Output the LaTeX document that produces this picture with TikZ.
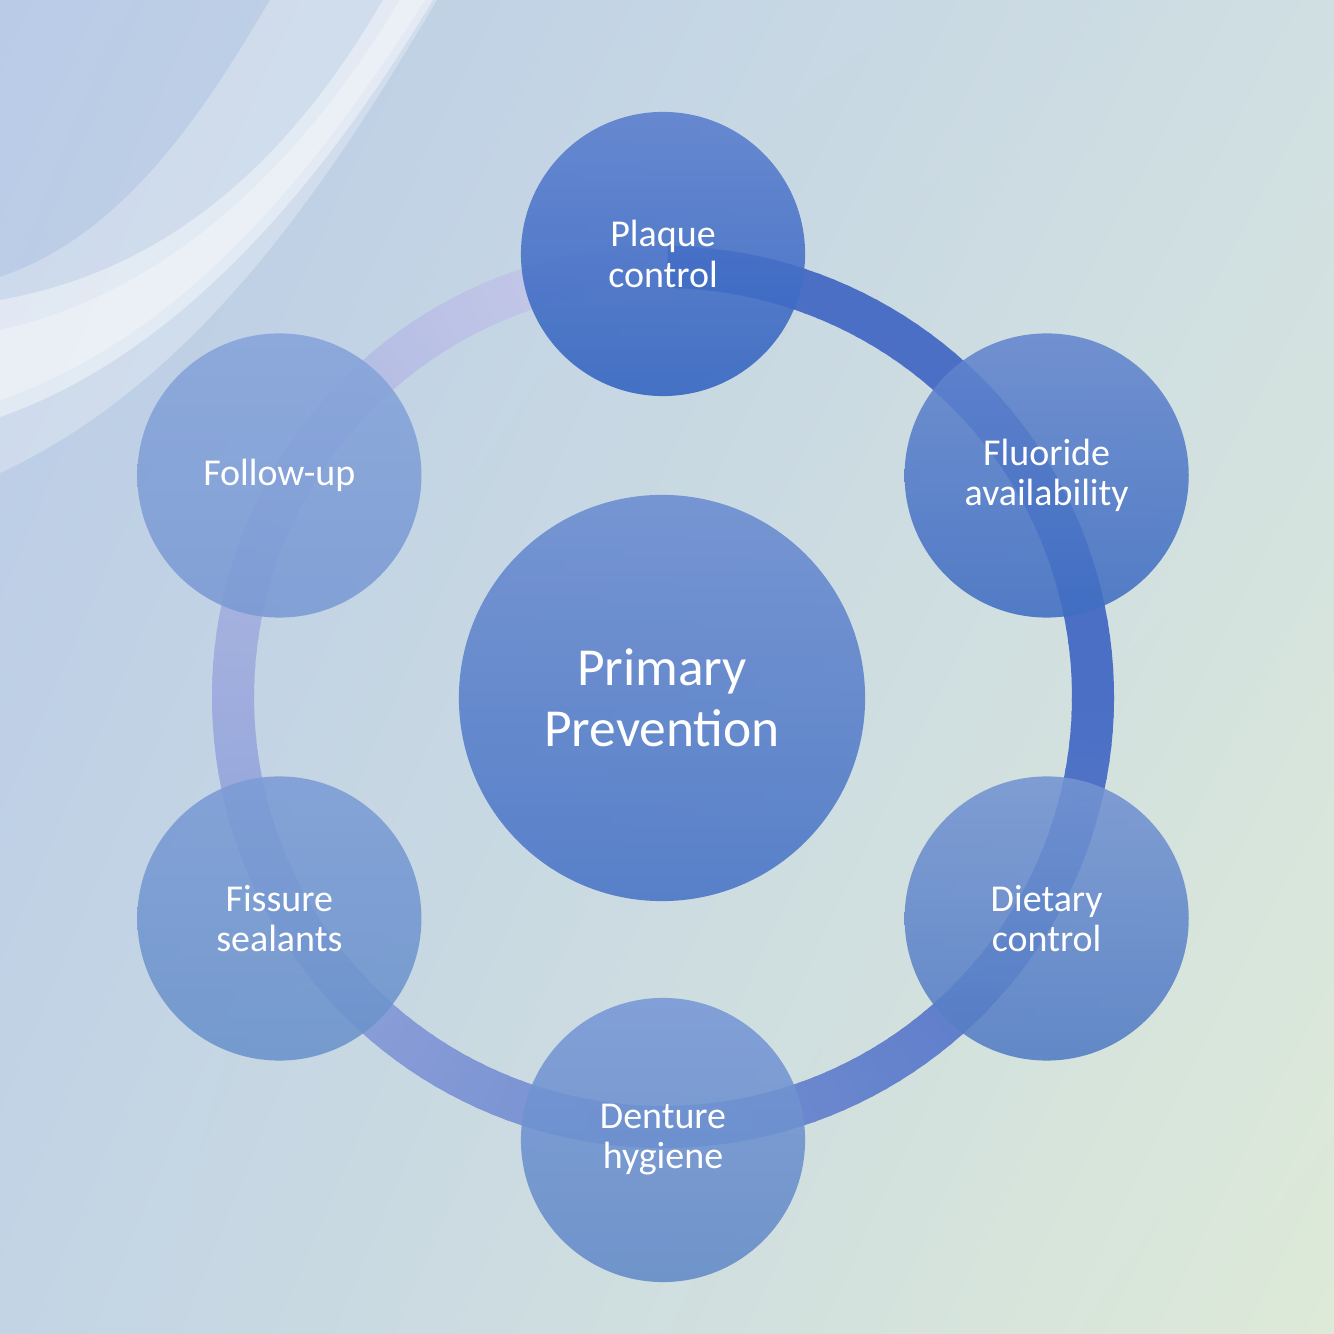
\documentclass[tikz,border=0pt]{standalone}
\usepackage{fontspec}
\setmainfont{Carlito}
\usetikzlibrary{calc,shadings}

\definecolor{bgtl}{HTML}{B9CBE7}
\definecolor{bgtr}{HTML}{D0DFE2}
\definecolor{bgbl}{HTML}{C3D4E5}
\definecolor{bgbr}{HTML}{DDEAD8}
\definecolor{ringdark}{HTML}{4A6FC5}
\definecolor{ringlight}{HTML}{CACDEA}
\definecolor{plaquetop}{HTML}{5A7ECE}
\definecolor{plaquebot}{HTML}{3263C0}
\definecolor{fluortop}{HTML}{6486CE}
\definecolor{fluorbot}{HTML}{406EC2}
\definecolor{diettop}{HTML}{7494D2}
\definecolor{dietbot}{HTML}{527CC4}
\definecolor{denttop}{HTML}{7898D6}
\definecolor{dentbot}{HTML}{628AC8}
\definecolor{fisstop}{HTML}{7C9CD6}
\definecolor{fissbot}{HTML}{6A92CA}
\definecolor{follotop}{HTML}{86A4DA}
\definecolor{follobot}{HTML}{7A9AD4}
\definecolor{hubtop}{HTML}{6B8CD0}
\definecolor{hubbot}{HTML}{4874C6}

\tikzset{
  petal/.style={circle, minimum size=2.84cm, inner sep=0pt, align=center,
    text=white, font=\fontsize{10.8}{11.4}\selectfont,
    fill opacity=.88, text opacity=1},
  hubdisc/.style={petal, minimum size=4.06cm,
    font=\fontsize{15.2}{17.4}\selectfont},
  ringseg/.style={line width=.42cm}
}

\begin{document}
\begin{tikzpicture}[x=.01cm, y=.01cm]
    \useasboundingbox (0,0) rectangle (1334,1334);
    \shade[upper left=bgtl, upper right=bgtr, lower left=bgbl, lower right=bgbr]
        (0,0) rectangle (1334,1334);

    % white swooshes in the top left corner
    \begin{scope}
        \clip (0,0) rectangle (1334,1334);
        \fill[white, opacity=.28] (270,1334) .. controls (205,1224) and (125,1099) .. (0,1057)
            -- (0,861) .. controls (200,954) and (330,1154) .. (437,1334) -- cycle;
        \fill[white, opacity=.4] (383,1334) .. controls (290,1174) and (170,1064) .. (0,1034)
            -- (0,917) .. controls (190,984) and (330,1164) .. (433,1334) -- cycle;
        \fill[white, opacity=.3] (400,1334) .. controls (310,1184) and (180,1044) .. (0,1004)
            -- (0,934) .. controls (190,1000) and (320,1170) .. (425,1334) -- cycle;
    \end{scope}

    \coordinate (hub) at (663,637);

    % ring, darkest just right of the top, fading clockwise
    \foreach \a in {0,2,...,358}{
        \pgfmathsetmacro\mixp{max(0,(\a-90)/270*100)}
        \draw[ringseg, color=ringlight!\mixp!ringdark]
            ($(hub)+(90-\a:430)$) arc[start angle=90-\a, end angle=87.4-\a, radius=430];
    }

    \node[petal, top color=plaquetop, bottom color=plaquebot] (plaque) at ($(hub)+(90:443)$) {Plaque\\control};
    \node[petal, top color=fluortop, bottom color=fluorbot] (fluoride) at ($(hub)+(30:443)$) {Fluoride\\availability};
    \node[petal, top color=diettop, bottom color=dietbot] (dietary) at ($(hub)+(-30:443)$) {Dietary\\control};
    \node[petal, top color=denttop, bottom color=dentbot] (denture) at ($(hub)+(-90:443)$) {Denture\\hygiene};
    \node[petal, top color=fisstop, bottom color=fissbot] (fissure) at ($(hub)+(-150:443)$) {Fissure\\sealants};
    \node[petal, top color=follotop, bottom color=follobot] (followup) at ($(hub)+(150:443)$) {Follow-up};

    \node[hubdisc, top color=hubtop, bottom color=hubbot] (primary) at ($(hub)+(-1,-1)$) {Primary\\Prevention};
\end{tikzpicture}
\end{document}
